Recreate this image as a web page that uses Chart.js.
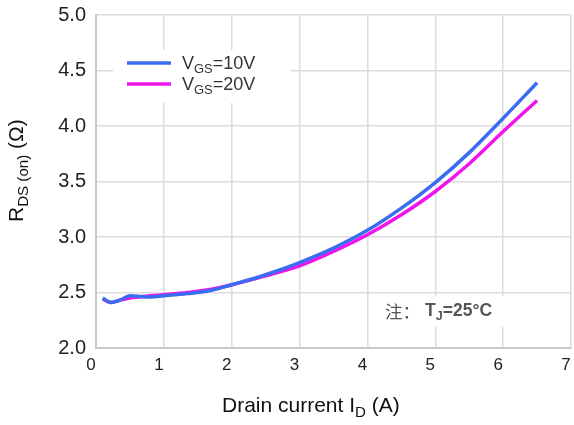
<!DOCTYPE html>
<html>
<head>
<meta charset="utf-8">
<script src="https://cdn.jsdelivr.net/npm/chart.js@4"></script>
<style>
  body { margin: 0; background: #fff; }
  #wrap { width: 574px; height: 425px; }
</style>
</head>
<body>
<div id="wrap"><canvas id="myChart" width="574" height="425"></canvas></div>
<script>
const current = [0.1, 0.22, 0.35, 0.5, 0.8, 1.0, 1.35, 1.7, 2.0, 2.5, 3.0, 3.5, 4.0, 4.5, 5.0, 5.5, 6.0, 6.5]
const vgs10 = [2.45, 2.41, 2.43, 2.47, 2.46, 2.47, 2.49, 2.52, 2.57, 2.66, 2.77, 2.90, 3.06, 3.26, 3.49, 3.76, 4.07, 4.39]
const vgs20 = [2.44, 2.41, 2.43, 2.45, 2.47, 2.48, 2.50, 2.53, 2.57, 2.65, 2.74, 2.87, 3.02, 3.20, 3.41, 3.66, 3.95, 4.23]
const seriesNames = ['10V', '20V']
const colors = ['#3a6cf0', '#f014ec']

const font = '"Liberation Sans", Arial, sans-serif'

const toPoints = (ys) => ys.map((y, i) => ({ x: current[i], y: y }))

// draws text pieces, some as subscripts
const drawRich = (ctx, parts, x, y, size, weight) => {
    let cx = x
    parts.forEach(p => {
        const s = p.sub ? size * 0.72 : size
        if (p.at !== undefined) cx = p.at
        const w = p.cjk ? '' : (weight || '')
        ctx.font = w + ' ' + s + 'px ' + (p.cjk ? '"Noto Sans CJK SC", sans-serif' : font)
        ctx.fillText(p.t, cx, y + (p.sub ? size * 0.32 : 0))
        cx += ctx.measureText(p.t).width
    })
    return cx - x
}

const decor = {
    id: 'decor',
    beforeDatasetsDraw(chart) {
        const ctx = chart.ctx
        ctx.save()
        ctx.fillStyle = '#fff'
        ctx.fillRect(113, 50, 178, 53)
        ctx.fillRect(374, 296, 152, 31)
        ctx.restore()
    },
    afterDraw(chart) {
        const ctx = chart.ctx
        ctx.save()
        ctx.textBaseline = 'middle'
        // legend
        seriesNames.forEach((n, i) => {
            const y = 63 + i * 21
            ctx.strokeStyle = colors[i]
            ctx.lineWidth = 3.5
            ctx.beginPath()
            ctx.moveTo(127, y)
            ctx.lineTo(171, y)
            ctx.stroke()
            ctx.fillStyle = '#333'
            drawRich(ctx, [{ t: 'V' }, { t: 'GS', sub: true }, { t: '=' + n }], 182, y + 1, 18)
        })
        // note
        ctx.fillStyle = '#555'
        drawRich(ctx, [{ t: '注：', cjk: true }, { t: 'T', at: 425 }, { t: 'J', sub: true }, { t: '=25°C' }], 385, 311, 17.5, '600')
        // x title
        ctx.fillStyle = '#111'
        drawRich(ctx, [{ t: 'Drain current I' }, { t: 'D', sub: true }, { t: ' (A)' }], 222, 406, 21)
        // y title
        ctx.translate(17, 222)
        ctx.rotate(-Math.PI / 2)
        drawRich(ctx, [{ t: 'R' }, { t: 'DS (on)', sub: true }, { t: ' (Ω)' }], 0, 0, 21)
        ctx.restore()
    }
}

new Chart(document.getElementById('myChart'), {
    type: 'line',
    data: {
        datasets: [{
            label: 'VGS=10V',
            data: toPoints(vgs10),
            borderColor: colors[0],
            borderWidth: 3.5,
            pointRadius: 0,
            cubicInterpolationMode: 'monotone'
        }, {
            label: 'VGS=20V',
            data: toPoints(vgs20),
            borderColor: colors[1],
            borderWidth: 3.5,
            pointRadius: 0,
            cubicInterpolationMode: 'monotone'
        }]
    },
    options: {
        responsive: false,
        animation: false,
        layout: { padding: { top: 15, right: 3, left: 0, bottom: 0 } },
        plugins: { legend: { display: false }, tooltip: { enabled: false } },
        scales: {
            x: {
                type: 'linear',
                min: 0,
                max: 7,
                ticks: { stepSize: 1, color: '#222', font: { family: font, size: 17 }, padding: 7, labelOffset: -5 },
                grid: { color: '#dcdcdc', lineWidth: 1.5, drawTicks: false },
                border: { color: '#c8c8c8', width: 2 },
                afterFit: (s) => { s.height = 77; s.paddingLeft = 0; s.paddingRight = 0 }
            },
            y: {
                min: 2,
                max: 5,
                ticks: { stepSize: 0.5, color: '#222', font: { family: font, size: 20 }, padding: 10,
                    callback: (v) => v.toFixed(1) },
                grid: { color: '#dcdcdc', lineWidth: 1.5, drawTicks: false },
                border: { color: '#c8c8c8', width: 2 },
                afterFit: (s) => { s.width = 96; s.paddingTop = 0; s.paddingBottom = 0 }
            }
        }
    },
    plugins: [decor]
})
</script>
</body>
</html>
